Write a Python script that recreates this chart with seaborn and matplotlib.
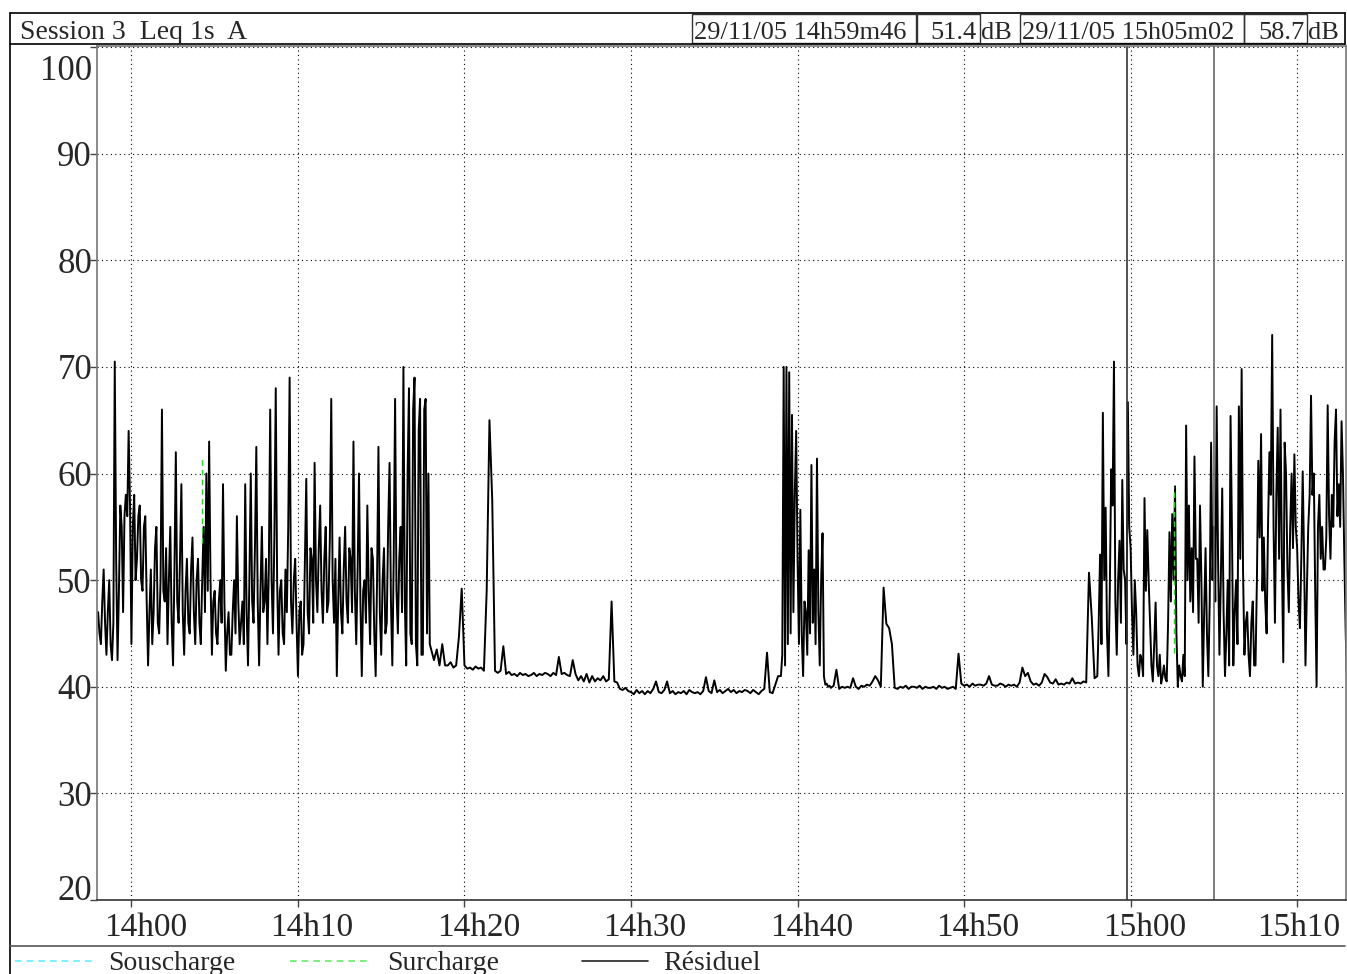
import matplotlib
matplotlib.use("Agg")
import matplotlib.pyplot as plt
import matplotlib.dates as mdates
import matplotlib.transforms as mtransforms
from matplotlib.lines import Line2D
from matplotlib.patches import Rectangle
import pandas as pd
import seaborn as sns

# Leq 1s A levels in dB. One row per minute.
# noisy parts every 5 s, calm parts every 10 s.

# 13h58m00 -> 14h17m55, every 5 s
noisy_start = [
    47, 45, 44, 48, 51, 46, 43, 47, 50, 44, 42.5, 46,
    70.5, 52, 42.5, 49, 57, 55, 47, 56, 58, 56, 64, 57,
    44, 55, 58, 50, 52, 56, 57, 50, 49, 55, 56, 48,
    42, 47, 51, 44, 47, 53, 55, 46, 45, 50, 66, 49,
    48, 53, 44, 50, 55, 46, 42, 51, 62, 48, 46, 52,
    59, 47, 43, 49, 52, 46, 45, 51, 54, 47, 44, 50,
    52, 46, 44, 50, 55, 47, 60, 49, 63, 50, 43, 48,
    49, 45, 44, 48, 50, 46, 59, 48, 41.5, 45, 47, 43,
    43, 47, 50, 45, 56, 48, 44, 46, 48, 44, 59, 47,
    42, 50, 60, 48, 46, 53, 62.5, 48, 42, 49, 55, 47,
    48, 52, 44, 51, 66, 50, 45, 54, 68, 50, 43, 49,
    50, 45, 44, 51, 47, 55, 69, 48, 45, 50, 52, 46,
    41, 47, 48, 43, 44, 52, 59.5, 47, 45, 53, 52, 46,
    61, 50, 47, 53, 57, 49, 46, 52, 55, 47, 48, 54,
    67, 50, 46, 52, 41, 48, 54, 47, 45, 51, 55, 48,
    46, 53, 52, 47, 63, 49, 44, 51, 60, 48, 41, 49,
    50, 46, 57, 49, 44, 53, 52, 45, 41, 50, 62.5, 47,
    43, 50, 53, 45, 46, 55, 61, 48, 42, 52, 67, 49,
    45, 52, 55, 47, 70, 48, 42, 60, 68, 45, 44, 66,
    69, 44, 42, 64, 67, 43, 43, 66, 67, 45, 60, 44,
]
# 14h18m00 -> 14h38m50, every 10 s
quiet_mid = [
    43.5, 42.5, 43.5, 42, 44, 42,
    42, 42.3, 41.8, 42, 44.7, 49.2,
    42, 41.7, 41.8, 41.6, 41.9, 41.7,
    41.8, 41.5, 49, 65, 57.5, 41.5,
    41.3, 41.5, 43.8, 41.2, 41.4, 41.1,
    41.2, 41.0, 41.3, 41.1, 41.2, 41.0,
    41.1, 41.3, 41.0, 41.2, 41.1, 41.3,
    41.2, 41.0, 41.3, 41.1, 42.8, 41.2,
    41.3, 41.1, 41.0, 42.5, 41.2, 40.6,
    41.0, 40.5, 41.2, 40.4, 41.0, 40.5,
    40.8, 40.6, 41.0, 40.5, 40.7, 48,
    40.5, 40.4, 39.8, 39.7, 39.9, 39.6,
    39.5, 39.3, 39.7, 39.4, 39.6, 39.3,
    39.6, 39.4, 39.8, 40.5, 39.5, 39.4,
    39.7, 40.5, 39.4, 39.6, 39.3, 39.5,
    39.4, 39.6, 39.3, 39.7, 39.5, 39.4,
    39.5, 39.3, 39.6, 40.9, 39.6, 39.4,
    40.6, 39.5, 39.7, 39.4, 39.6, 39.8,
    39.5, 39.7, 39.4, 39.6, 39.5, 39.7,
    39.6, 39.4, 39.7, 39.5, 39.3, 39.6,
    39.8, 43.2, 39.5, 39.4, 40.2, 41,
]
# 14h39m00 -> 14h41m55, every 5 s
burst_1439 = [
    41, 43, 70, 42, 70, 44, 69.5, 45, 65.5, 47, 58, 64,
    52, 44, 56.6, 45, 41, 48, 47, 43, 52.8, 45, 60.8, 46,
    51, 44, 61.4, 47, 42, 50, 54.4, 41, 40.2, 40.3, 40, 40.1,
]
# 14h42m00 -> 14h57m50, every 10 s
quiet_late = [
    39.9, 40.1, 41.6, 39.8, 40.0, 39.9,
    40.0, 39.9, 40.8, 40.0, 39.8, 40.1,
    40.0, 40.2, 40.1, 40.5, 41.0, 40.6,
    40.0, 49.3, 45.9, 45.5, 44.0, 39.9,
    39.8, 40.0, 39.9, 40.1, 39.8, 40.0,
    40.0, 39.9, 40.1, 39.8, 40.0, 39.9,
    39.9, 40.0, 39.8, 40.1, 39.9, 40.0,
    39.8, 39.9, 40.0, 39.8, 43.1, 40.3,
    40.1, 40.2, 40.0, 40.3, 40.1, 40.2,
    40.2, 40.1, 40.3, 41.0, 40.2, 40.1,
    40.1, 40.3, 40.2, 40.0, 40.2, 40.1,
    40.2, 40.0, 40.4, 41.8, 41.0, 41.3,
    40.5, 40.2, 40.3, 40.1, 40.4, 41.2,
    40.9, 40.4, 40.3, 40.7, 40.2, 40.3,
    40.2, 40.4, 40.3, 40.8, 40.3, 40.4,
    40.3, 40.5, 40.4, 50.7, 46.5, 40.8,
]
# 14h58m00 -> 15h13m00, every 5 s
noisy_end = [
    41, 46, 52.4, 44, 65.7, 50, 56.8, 45, 41, 49, 60.4, 57,
    70.5, 48, 43, 50, 53.7, 46, 59.4, 51, 50, 44, 66.7, 55,
    53, 47, 43, 50, 47, 42, 41, 43, 42.5, 41, 57.7, 49,
    54.7, 50, 46, 42, 40.5, 44, 47.9, 42, 41, 43, 40.3, 41,
    42, 40.8, 40.5, 46, 54.5, 48, 56.2, 50, 58.8, 45, 40, 42,
    41, 40.5, 43, 41, 64.5, 50, 57, 48, 53, 47, 61.6, 52,
    52, 46, 57, 50, 40, 47, 53, 45, 41, 48, 62.9, 50,
    55, 48, 66.3, 52, 43, 50, 58.6, 47, 41, 45, 50, 42,
    65.4, 55, 42, 47, 50, 44, 66.3, 52, 69.8, 51, 43, 46,
    47, 43, 41, 46, 48, 42, 42, 50, 61.2, 54, 63.7, 49,
    54, 48, 45, 55, 62, 58, 73, 55, 46, 58, 64.3, 52,
    66, 52, 42.3, 62.9, 60, 51, 47, 55, 60, 53, 61.8, 55,
    53, 48, 45.5, 52, 60.2, 52, 42, 49, 55, 58, 67.3, 58,
    60, 49, 40, 55, 58, 52, 55, 51, 51, 54, 66.4, 56,
    52, 58, 55, 63, 66, 56, 59, 55, 64.9, 60, 52, 45,
    40,
]
segments = [
    ("2005-11-29 13:58:00", "5s", noisy_start),
    ("2005-11-29 14:18:00", "10s", quiet_mid),
    ("2005-11-29 14:39:00", "5s", burst_1439),
    ("2005-11-29 14:42:00", "10s", quiet_late),
    ("2005-11-29 14:58:00", "5s", noisy_end),
]

# short overload (Surcharge) marks: time, low, high
surcharge_times = ["2005-11-29 14:04:13", "2005-11-29 15:02:35"]
surcharge_low = [53.5, 43.2]
surcharge_high = [61.4, 58.7]

cursor_times = ["2005-11-29 14:59:46", "2005-11-29 15:05:02"]
header_title = "Session 3  Leq 1s  A"
cursor_labels = ["29/11/05 14h59m46", "29/11/05 15h05m02"]
cursor_values = ["51.4", "58.7"]
legend_names = ["Souscharge", "Surcharge", "Résiduel"]

y_ticks = [20, 30, 40, 50, 60, 70, 80, 90, 100]

parts = []
for start, step, vals in segments:
    parts.append(pd.DataFrame({"time": pd.date_range(start, periods=len(vals), freq=step),
                               "level": vals}))
df = pd.concat(parts, ignore_index=True)

sns.set_style("white")
plt.rcParams["font.family"] = ["Liberation Serif", "DejaVu Serif"]

W, H = 1347, 974
fig = plt.figure(figsize=(W / 100, H / 100), dpi=100)


def fx(x):
    return x / W


def fy(y):
    return 1 - y / H


ax = fig.add_axes([fx(97), fy(900), fx(1346) - fx(97), fy(46) - fy(900)])

sns.lineplot(data=df, x="time", y="level", ax=ax, color="black",
             linewidth=1.4, estimator=None, sort=False)

for t, lo, hi in zip(surcharge_times, surcharge_low, surcharge_high):
    ax.plot([pd.Timestamp(t), pd.Timestamp(t)], [lo, hi], color="#33cc33",
            linestyle=(0, (4, 3)), linewidth=1.0)

ax.axvline(pd.Timestamp(cursor_times[0]), color="#333333", linewidth=1.2)
ax.axvline(pd.Timestamp(cursor_times[1]), color="#666666", linewidth=1.2)

ax.set_xlim(pd.Timestamp("2005-11-29 13:57:56"), pd.Timestamp("2005-11-29 15:12:56"))
ax.set_ylim(20, 100.1)
ax.set_yticks(y_ticks)
x_ticks = pd.date_range("2005-11-29 14:00", "2005-11-29 15:10", freq="10min")
ax.set_xticks(x_ticks)
ax.grid(True, color="black", linestyle=(0, (1, 3)), linewidth=0.8)
ax.set_xlabel("")
ax.set_ylabel("")
ax.tick_params(axis="both", direction="out", length=5, width=1, color="#444444",
               labelbottom=False, labelleft=False, bottom=True, left=True)
for side in ["left", "right", "top"]:
    ax.spines[side].set_color("#777777")
ax.spines["bottom"].set_color("#333333")
for s in ax.spines.values():
    s.set_linewidth(1.2)

# tick labels
xtrans = mtransforms.offset_copy(ax.get_xaxis_transform(), fig=fig, x=14, y=-13, units="dots")
last_trans = mtransforms.offset_copy(ax.transAxes, fig=fig, x=-6, y=-13, units="dots")
for t in x_ticks:
    if t == x_ticks[-1]:
        ax.text(1, 0, t.strftime("%Hh%M"), transform=last_trans,
                ha="right", va="top", fontsize=24, clip_on=False)
    else:
        ax.text(mdates.date2num(t), 0, t.strftime("%Hh%M"), transform=xtrans,
                ha="center", va="top", fontsize=24, clip_on=False)
ytrans = mtransforms.offset_copy(ax.get_yaxis_transform(), fig=fig, x=-5, y=0, units="dots")
top_trans = mtransforms.offset_copy(ax.get_yaxis_transform(), fig=fig, x=-5, y=-9, units="dots")
for v in y_ticks:
    if v == y_ticks[0]:
        ax.text(0, v, str(v), transform=ytrans, ha="right", va="baseline",
                fontsize=25, clip_on=False)
    elif v == y_ticks[-1]:
        ax.text(0, 100.1, str(v), transform=top_trans, ha="right", va="top",
                fontsize=25, clip_on=False)
    else:
        ax.text(0, v, str(v), transform=ytrans, ha="right", va="center_baseline",
                fontsize=25, clip_on=False)

# frame around header, plot and legend row
frame = dict(color="black", linewidth=1.2)
fig.add_artist(Line2D([fx(10), fx(10)], [fy(13), 0], **frame))
fig.add_artist(Line2D([fx(1345), fx(1345)], [fy(13), fy(44)], **frame))
fig.add_artist(Line2D([fx(10), fx(1345)], [fy(13), fy(13)], **frame))
fig.add_artist(Line2D([fx(10), fx(1345)], [fy(44), fy(44)], **frame))
fig.add_artist(Line2D([fx(10), fx(1345)], [fy(946), fy(946)], color="#555555", linewidth=1.2))

# header
fig.text(fx(20), fy(39), header_title, fontsize=20, va="baseline", ha="left")
boxes = [(692, 916), (917, 980), (1020, 1244), (1244, 1307)]
for x0, x1 in boxes:
    fig.add_artist(Rectangle((fx(x0), fy(43)), fx(x1) - fx(x0), fy(14) - fy(43),
                             fill=False, edgecolor="#333333", linewidth=1.0))
fig.text(fx(694), fy(39), cursor_labels[0], fontsize=19, va="baseline", ha="left")
fig.text(fx(977), fy(39), cursor_values[0], fontsize=19, va="baseline", ha="right")
fig.text(fx(981), fy(39), "dB", fontsize=19, va="baseline", ha="left")
fig.text(fx(1022), fy(39), cursor_labels[1], fontsize=19, va="baseline", ha="left")
fig.text(fx(1305), fy(39), cursor_values[1], fontsize=19, va="baseline", ha="right")
fig.text(fx(1308), fy(39), "dB", fontsize=19, va="baseline", ha="left")

# legend row
legend_lines = [((15, 95), "#66eeff", (0, (4, 3))),
                ((290, 370), "#66ee66", (0, (4, 3))),
                ((582, 648), "#222222", "-")]
legend_text_x = [108, 387, 663]
for ((x0, x1), col, ls), name, tx in zip(legend_lines, legend_names, legend_text_x):
    fig.add_artist(Line2D([fx(x0), fx(x1)], [fy(961), fy(961)], color=col,
                          linestyle=ls, linewidth=1.2))
    fig.text(fx(tx), fy(970), name, fontsize=20, va="baseline", ha="left")

fig.savefig("out.png", dpi=100)
